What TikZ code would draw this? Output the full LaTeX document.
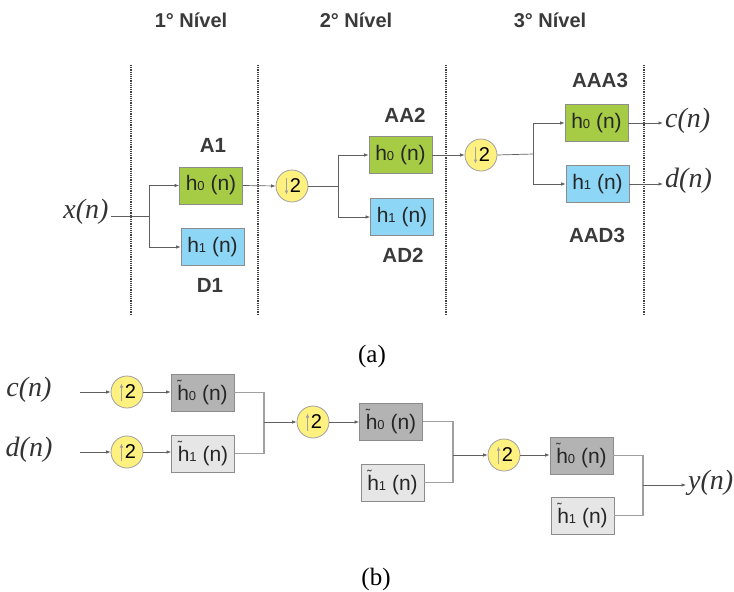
\documentclass[tikz,border=0pt]{standalone}
\usepackage{fontspec}
\setmainfont{Liberation Serif}
\setsansfont{Liberation Sans}
\usetikzlibrary{arrows.meta}
\definecolor{gfill}{HTML}{A6CB45}
\definecolor{bfill}{HTML}{8DD6F5}
\definecolor{dgfill}{HTML}{B3B3B3}
\definecolor{lgfill}{HTML}{E6E6E6}
\definecolor{yfill}{HTML}{FFF17F}
\definecolor{edge}{HTML}{8C8C8C}
\definecolor{wire}{HTML}{606060}
\definecolor{mwire}{HTML}{A0A0A0}
\definecolor{txt}{HTML}{3A3A3A}
\newcommand\smallsub[1]{{\fontsize{13pt}{13pt}\selectfont #1}}
\newcommand\htil{\makebox[0pt][l]{\raisebox{11pt}{\fontsize{13pt}{13pt}\selectfont\char"02DC}}h}
\tikzset{
  filt/.style={draw=edge, line width=0.8pt, minimum width=63pt, minimum height=37pt,
    inner sep=0pt, font=\sffamily\fontsize{21pt}{21pt}\selectfont, text=black!85},
  gbox/.style={filt, fill=gfill},
  bbox/.style={filt, fill=bfill},
  dgbox/.style={filt, fill=dgfill},
  lgbox/.style={filt, fill=lgfill},
  samp/.style={circle, draw=mwire, fill=yfill, line width=0.8pt, minimum size=32pt,
    inner sep=0pt, font=\sffamily\fontsize{20pt}{20pt}\selectfont},
  downs/.style={samp, path picture={
    \draw[line width=0.7pt, -{Latex[length=4pt,width=3.5pt]}]
      ([xshift=-5.5pt,yshift=8.5pt]path picture bounding box.center) --
      ([xshift=-5.5pt,yshift=-8.5pt]path picture bounding box.center);}},
  ups/.style={samp, path picture={
    \draw[line width=0.7pt, -{Latex[length=4pt,width=3.5pt]}]
      ([xshift=-5.5pt,yshift=-8.5pt]path picture bounding box.center) --
      ([xshift=-5.5pt,yshift=8.5pt]path picture bounding box.center);}},
  title/.style={font=\sffamily\bfseries\fontsize{20pt}{20pt}\selectfont, text=txt},
  lab/.style={font=\sffamily\bfseries\fontsize{20.5pt}{20.5pt}\selectfont, text=txt},
  sig/.style={font=\itshape\fontsize{28pt}{28pt}\selectfont, text=black!80, inner sep=2pt},
  captxt/.style={font=\fontsize{25pt}{25pt}\selectfont},
  wline/.style={draw=wire, line width=0.7pt},
  arr/.style={wline, -{Latex[length=4.5pt,width=3.5pt]}},
  mline/.style={draw=mwire, line width=1.1pt},
  sep/.style={draw=black!75, line width=1.3pt, dash pattern=on 1.1pt off 1.1pt},
}
\begin{document}
\begin{tikzpicture}[x=1pt,y=-1pt]
\useasboundingbox (0,0) rectangle (734,592);
% titles
\node[title] (t1) at (191,20) {1° Nível};
\node[title] (t2) at (356,20) {2° Nível};
\node[title] (t3) at (550,20) {3° Nível};
% separators
\foreach \xx [count=\i] in {131,258,446,644}{
  \coordinate (s\i a) at (\xx,65);
  \coordinate (s\i b) at (\xx,314);
  \draw[sep] (s\i a) -- (s\i b);
}
% (a) analysis
\node[sig] (xn) at (86,212) {x(n)};
\coordinate (b1) at (149,216);
\node[gbox] (A1) at (211,185.5) {h\smallsub{0} (n)};
\node[bbox] (D1) at (212.5,247) {h\smallsub{1} (n)};
\node[lab] (lA1) at (213,145) {A1};
\node[lab] (lD1) at (210,285) {D1};
\draw[wline] (xn.east |- b1) -- (b1);
\draw[arr] (b1) |- (A1.west);
\draw[arr] (b1) |- (D1.west);
\node[downs] (d1) at (292,186) {\hspace*{7pt}2};
\draw[arr] (A1.east) -- (d1.west);
\coordinate (b2) at (338,186);
\node[gbox] (AA2) at (400.5,155) {h\smallsub{0} (n)};
\node[bbox] (AD2) at (402,217) {h\smallsub{1} (n)};
\node[lab] (lAA2) at (405,115) {AA2};
\node[lab] (lAD2) at (403,255) {AD2};
\draw[wline] (d1.east) -- (b2);
\draw[arr] (b2) |- (AA2.west);
\draw[arr] (b2) |- (AD2.west);
\node[downs] (d2) at (481,155) {\hspace*{7pt}2};
\draw[arr] (AA2.east) -- (d2.west);
\coordinate (b3) at (533,154);
\node[gbox] (AAA3) at (596.5,123) {h\smallsub{0} (n)};
\node[bbox] (AAD3) at (597.5,184) {h\smallsub{1} (n)};
\node[lab] (lAAA3) at (600,80) {AAA3};
\node[lab] (lAAD3) at (597,235) {AAD3};
\draw[wline] (d2.east) -- (b3);
\draw[arr] (b3) |- (AAA3.west);
\draw[arr] (b3) |- (AAD3.west);
\node[sig, anchor=west] (cn) at (663,121) {c(n)};
\node[sig, anchor=west] (dn) at (663,181) {d(n)};
\draw[arr] (AAA3.east) -- (cn.west |- AAA3.east);
\draw[arr] (AAD3.east) -- (dn.west |- AAD3.east);
\node[captxt] (ca) at (372,356) {(a)};
% (b) synthesis
\node[sig] (cn2) at (29,390) {c(n)};
\node[sig] (dn2) at (29,450) {d(n)};
\coordinate (c0) at (80,392);
\coordinate (d0) at (80,452);
\node[ups] (u1) at (127,392) {\hspace*{7pt}2};
\node[ups] (u2) at (127,452) {\hspace*{7pt}2};
\draw[arr] (c0) -- (u1.west);
\draw[arr] (d0) -- (u2.west);
\node[dgbox] (B1) at (202.5,392.5) {\htil\smallsub{0} (n)};
\node[lgbox] (C1) at (203,453.5) {\htil\smallsub{1} (n)};
\draw[arr] (u1.east) -- (B1.west |- u1.east);
\draw[arr] (u2.east) -- (C1.west |- u2.east);
\coordinate (m1) at (264,422);
\draw[mline] (B1.east) -| (m1) |- (C1.east);
\node[ups] (u3) at (313,422) {\hspace*{7pt}2};
\draw[arr] (m1) -- (u3.west);
\node[dgbox] (B2) at (391,421.5) {\htil\smallsub{0} (n)};
\node[lgbox] (C2) at (392.5,482.5) {\htil\smallsub{1} (n)};
\draw[arr] (u3.east) -- (B2.west |- u3.east);
\coordinate (m2) at (453,455);
\draw[mline] (B2.east) -| (m2) |- (C2.east);
\node[ups] (u4) at (504,455) {\hspace*{7pt}2};
\draw[arr] (m2) -- (u4.west);
\node[dgbox] (B3) at (581.5,455.5) {\htil\smallsub{0} (n)};
\node[lgbox] (C3) at (582.5,515.5) {\htil\smallsub{1} (n)};
\draw[arr] (u4.east) -- (B3.west |- u4.east);
\coordinate (m3) at (643,485);
\draw[mline] (B3.east) -| (m3) |- (C3.east);
\node[sig, anchor=west] (yn) at (686,483) {y(n)};
\draw[arr] (m3) -- (yn.west |- m3);
\node[captxt] (cb) at (376,579) {(b)};
\end{tikzpicture}
\end{document}
